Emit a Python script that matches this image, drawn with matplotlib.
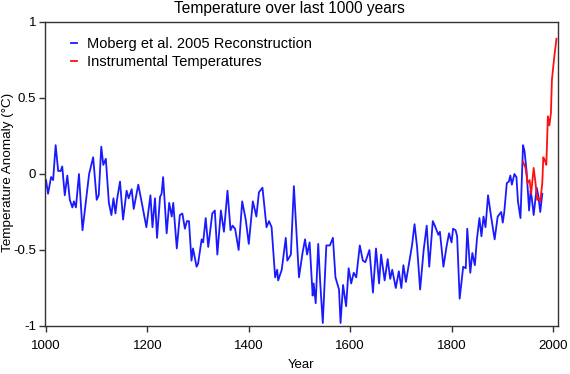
import matplotlib
matplotlib.use("Agg")
import matplotlib.pyplot as plt

plt.rcParams['font.family'] = ['Liberation Sans', 'DejaVu Sans']
plt.rcParams['axes.unicode_minus'] = False

moberg_years = [1000, 1004, 1010, 1014, 1019, 1024, 1029, 1032, 1037, 1042, 1047, 1052, 1055, 1059,
                1065, 1072, 1078, 1085, 1093, 1100, 1104, 1109, 1113, 1118, 1124, 1129, 1133, 1137,
                1140, 1146, 1152, 1159, 1163, 1169, 1173, 1182, 1189, 1198, 1206, 1210, 1215, 1219,
                1225, 1228, 1231, 1238, 1243, 1248, 1251, 1258, 1264, 1269, 1274, 1278, 1282, 1287,
                1290, 1297, 1300, 1307, 1310, 1315, 1320, 1328, 1333, 1338, 1345, 1351, 1358, 1364,
                1368, 1373, 1380, 1387, 1394, 1400, 1408, 1415, 1420, 1427, 1435, 1440, 1445, 1452,
                1456, 1458, 1465, 1473, 1476, 1483, 1489, 1499, 1506, 1511, 1515, 1520, 1526, 1528,
                1532, 1537, 1541, 1546, 1553, 1560, 1566, 1571, 1578, 1581, 1586, 1592, 1597, 1602,
                1607, 1612, 1619, 1625, 1630, 1638, 1645, 1651, 1657, 1661, 1668, 1674, 1679, 1683,
                1690, 1696, 1701, 1705, 1710, 1716, 1722, 1727, 1732, 1738, 1745, 1751, 1756, 1763,
                1767, 1774, 1777, 1784, 1790, 1795, 1800, 1803, 1808, 1811, 1816, 1823, 1828, 1831,
                1837, 1841, 1846, 1850, 1855, 1859, 1863, 1867, 1872, 1878, 1885, 1891, 1898, 1901,
                1904, 1909, 1913, 1916, 1919, 1924, 1928, 1931, 1936, 1941, 1944, 1948, 1953, 1956,
                1958, 1962, 1968, 1971, 1975, 1979]
moberg_vals = [-0.04, -0.13, -0.02, -0.04, 0.19, 0.02, 0.02, 0.05, -0.14, -0.01, -0.17, -0.22, -0.18, -0.22,
               0.00, -0.37, -0.20, 0.00, 0.11, -0.17, -0.14, 0.18, 0.06, 0.10, -0.19, -0.27, -0.16, -0.26,
               -0.17, -0.05, -0.30, -0.11, -0.16, -0.10, -0.23, -0.07, -0.19, -0.35, -0.14, -0.35, -0.16, -0.42,
               -0.15, -0.13, -0.02, -0.39, -0.19, -0.28, -0.19, -0.49, -0.27, -0.26, -0.36, -0.31, -0.31, -0.57,
               -0.49, -0.61, -0.59, -0.43, -0.45, -0.29, -0.48, -0.26, -0.24, -0.53, -0.24, -0.38, -0.11, -0.37,
               -0.34, -0.36, -0.50, -0.18, -0.30, -0.46, -0.18, -0.28, -0.12, -0.09, -0.35, -0.31, -0.35, -0.68,
               -0.63, -0.70, -0.63, -0.42, -0.57, -0.53, -0.08, -0.68, -0.52, -0.43, -0.53, -0.45, -0.80, -0.72,
               -0.85, -0.46, -0.72, -0.98, -0.47, -0.47, -0.42, -0.68, -0.76, -0.98, -0.73, -0.87, -0.62, -0.72,
               -0.65, -0.68, -0.47, -0.57, -0.58, -0.50, -0.78, -0.49, -0.72, -0.53, -0.70, -0.56, -0.69, -0.63,
               -0.75, -0.64, -0.75, -0.60, -0.71, -0.59, -0.47, -0.33, -0.48, -0.76, -0.50, -0.34, -0.61, -0.31,
               -0.34, -0.40, -0.38, -0.61, -0.48, -0.39, -0.45, -0.36, -0.37, -0.41, -0.82, -0.61, -0.62, -0.36,
               -0.65, -0.52, -0.60, -0.43, -0.29, -0.41, -0.28, -0.35, -0.14, -0.28, -0.43, -0.28, -0.25, -0.32,
               -0.25, -0.06, -0.05, -0.01, -0.07, 0.00, -0.02, -0.18, -0.29, 0.19, 0.15, 0.02, -0.24, -0.11,
               -0.15, -0.27, -0.09, -0.14, -0.25, -0.13]

instr_years = [1941, 1946, 1950, 1954, 1957, 1962, 1966, 1969, 1972, 1975, 1979, 1981, 1984, 1987,
               1990, 1993, 1996, 1998, 2003, 2007]
instr_vals = [0.08, 0.04, -0.06, -0.04, -0.13, 0.04, -0.07, -0.17, -0.16, -0.18, -0.06, 0.11, 0.09, 0.06,
              0.38, 0.32, 0.40, 0.62, 0.78, 0.89]

x_ticks = [1000, 1200, 1400, 1600, 1800, 2000]
y_ticks = [-1, -0.5, 0, 0.5, 1]
y_tick_labels = ['-1', '-0.5', '0', '0.5', '1']

fig = plt.figure(figsize=(5.7, 3.74), dpi=100)
ax = fig.add_axes([45/570, 1-326/374, (558-45)/570, (326-22)/374])

ax.plot(moberg_years, moberg_vals, color='#1a1aff', lw=1.3, label='Moberg et al. 2005 Reconstruction')
ax.plot(instr_years, instr_vals, color='#ff1010', lw=1.3, label='Instrumental Temperatures')

ax.set_xlim(998, 2010)
ax.set_ylim(-1, 1)
ax.set_xticks(x_ticks)
ax.set_yticks(y_ticks)
ax.set_yticklabels(y_tick_labels)
ax.tick_params(axis='both', direction='out', length=4, width=1, labelsize=9.5, colors='#333333',
               labelcolor='black', top=False, right=False)
ax.tick_params(axis='x', pad=6)
ax.tick_params(axis='y', pad=2.5)
for s in ax.spines.values():
    s.set_color('#333333')
    s.set_linewidth(1.0)

ax.set_xlabel('Year', fontsize=9.5, labelpad=5)
fig.text(8.5/570, 1-172/374, 'Temperature Anomaly (°C)', rotation=90, ha='center', va='center',
         fontsize=9.7)
fig.text(289/570, 1-9/374, 'Temperature over last 1000 years', ha='center', va='center',
         fontsize=11.2)

ax.legend(loc='upper left', frameon=False, fontsize=10.5, handlelength=0.45, handletextpad=0.65,
          labelspacing=0.32, bbox_to_anchor=(0.033, 0.98), borderaxespad=0.2)

fig.savefig('out.png', dpi=100)
